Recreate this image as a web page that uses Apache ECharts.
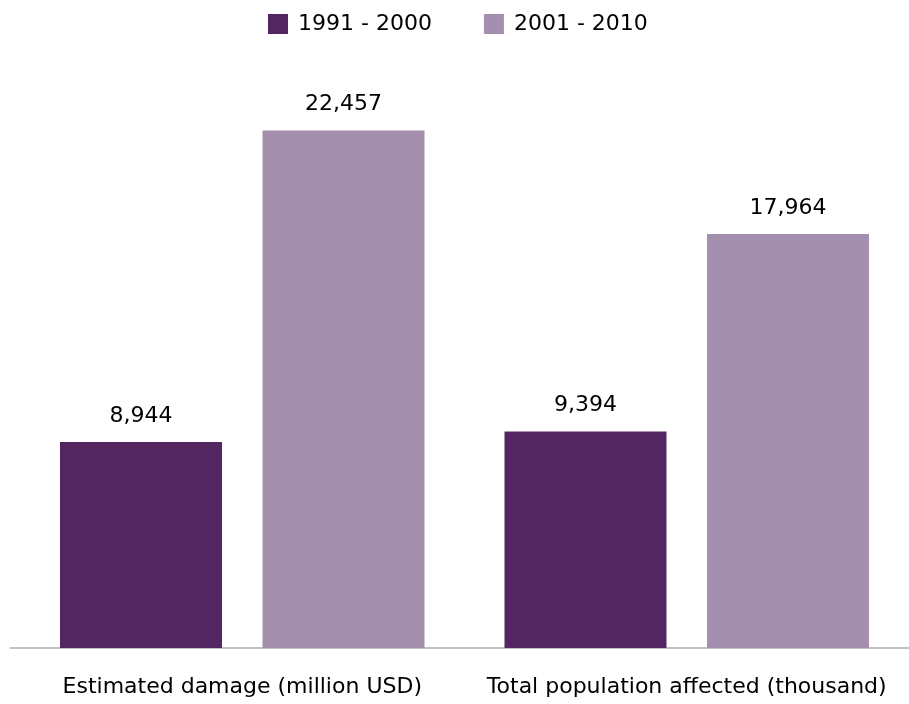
<!DOCTYPE html>
<html><head><meta charset="utf-8">
<script src="https://cdn.jsdelivr.net/npm/echarts@6/dist/echarts.min.js"></script>
<style>html,body{margin:0;padding:0;background:#fff}#c{width:909px;height:704px}</style>
</head><body><div id="c"></div>
<script>
const categories = ['Estimated damage (million USD)', 'Total population affected (thousand)'];
const seriesNames = ['1991 - 2000', '2001 - 2010'];
const values1991 = [8944, 9394];
const values2001 = [22457, 17964];

const FONT = '"DejaVu Sans"';
const chart = echarts.init(document.getElementById('c'));
const lbl = {show: true, position: 'top', distance: 15, color: '#000', fontSize: 22, fontFamily: FONT,
  formatter: p => p.value.toLocaleString('en-US')};
chart.setOption({
  animation: false,
  legend: {top: 8, left: 263, itemWidth: 20, itemHeight: 20, itemGap: 52,
    textStyle: {fontSize: 22, fontFamily: FONT, color: '#000', padding: [0,0,0,5]},
    data: seriesNames, icon: 'rect'},
  grid: {left: 20, right: -1, top: 72, bottom: 56, containLabel: false},
  xAxis: {type: 'category', data: categories,
    axisLine: {lineStyle: {color: '#c0c0c0', width: 2}}, axisTick: {show: false},
    axisLabel: {color: '#000', fontSize: 22, fontFamily: FONT, margin: 28, interval: 0}},
  yAxis: {type: 'value', min: 0, max: 25000, show: false, splitLine: {show: false}},
  series: [
    {name: seriesNames[0], type: 'bar', data: values1991, barGap: '25%', barCategoryGap: '18%',
      itemStyle: {color: '#532661'}, label: lbl},
    {name: seriesNames[1], type: 'bar', data: values2001,
      itemStyle: {color: '#A48FAF'}, label: lbl}
  ],
  graphic: [{type: 'rect', shape: {x: 10, y: 647, width: 12, height: 2}, style: {fill: '#c0c0c0'}}]
});
</script></body></html>
